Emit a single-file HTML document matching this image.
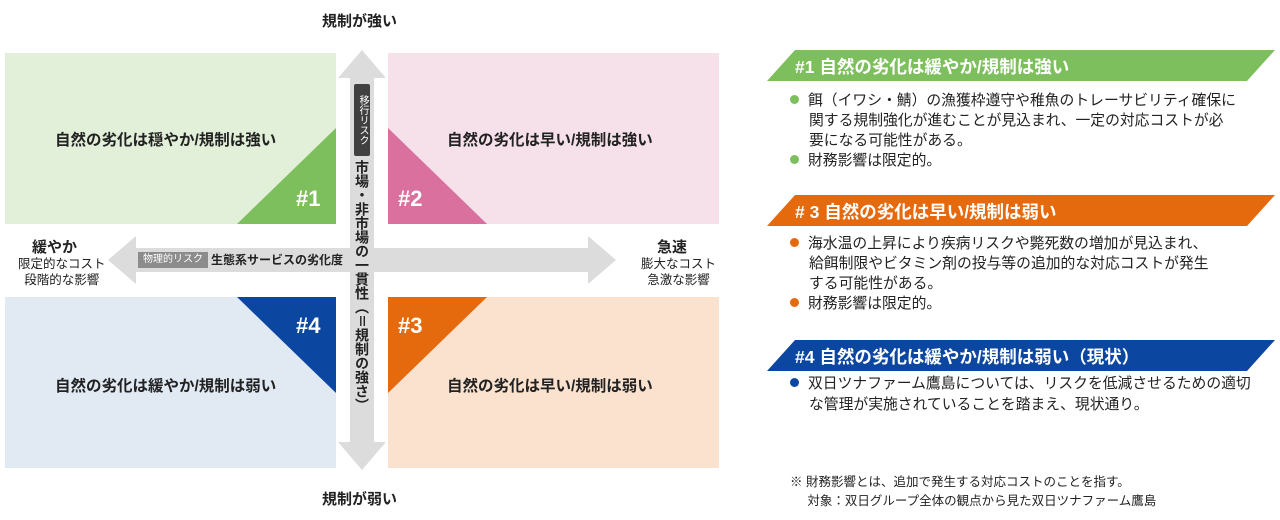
<!DOCTYPE html>
<html><head><meta charset="utf-8"><style>
body{margin:0;width:1280px;height:520px;background:#fff;font-family:"Liberation Sans","Noto Sans CJK JP",sans-serif;color:#222;position:relative;overflow:hidden}
.a{position:absolute;white-space:nowrap}
.q{position:absolute;width:331px;height:171px}
.ql{font-size:15.5px;font-weight:bold;position:absolute;white-space:nowrap}
.num{position:absolute;color:#fff;font-size:22px;font-weight:bold}
.ban{position:absolute;left:767px;width:508px;height:31px}
.bt{position:absolute;left:795px;color:#fff;font-size:17.5px;font-weight:bold;white-space:nowrap}
.li{position:absolute;left:790px;font-size:14.8px;line-height:20px;white-space:nowrap}
.dot{display:inline-block;width:9px;height:9px;border-radius:50%;margin-right:9px;vertical-align:1px}
.ind{padding-left:19px}
</style></head><body>
<div class="a" style="left:322px;top:10px;font-size:15px;font-weight:bold">規制が強い</div>
<div class="a" style="left:322px;top:488px;font-size:15px;font-weight:bold">規制が弱い</div>

<div class="q" style="left:5px;top:53px;background:#e2efd9"></div>
<div class="q" style="left:388px;top:53px;background:#f6e1ea"></div>
<div class="q" style="left:5px;top:297px;background:#e1e9f3"></div>
<div class="q" style="left:388px;top:297px;background:#fae2cf"></div>

<svg class="a" style="left:0;top:0" width="740" height="520">
<polygon points="237,224 336,224 336,128" fill="#7dbf5c"/>
<polygon points="388,128 388,224 487,224" fill="#d9709e"/>
<polygon points="237,297 336,297 336,393" fill="#0b46a0"/>
<polygon points="388,297 487,297 388,393" fill="#e5690d"/>
<polygon points="108,260 136,236 136,248 588,248 588,236 616,260 588,284 588,272 136,272 136,284" fill="#dcdcdc"/>
<polygon points="362,50 386,78 374,78 374,442 386,442 362,470 338,442 350,442 350,78 338,78" fill="#dcdcdc"/>
</svg>

<div class="num" style="left:296px;top:186px">#1</div>
<div class="num" style="left:398px;top:186px">#2</div>
<div class="num" style="left:296px;top:313px">#4</div>
<div class="num" style="left:398px;top:313px">#3</div>

<div class="ql" style="left:55px;top:128px">自然の劣化は穏やか/規制は強い</div>
<div class="ql" style="left:447px;top:128px">自然の劣化は早い/規制は強い</div>
<div class="ql" style="left:55px;top:374px">自然の劣化は緩やか/規制は弱い</div>
<div class="ql" style="left:447px;top:374px">自然の劣化は早い/規制は弱い</div>

<div class="a" style="left:32px;top:236px;font-size:15px;font-weight:bold">緩やか</div>
<div class="a" style="left:18px;top:256px;font-size:12.5px;line-height:16px;text-align:center">限定的なコスト<br>段階的な影響</div>
<div class="a" style="left:657px;top:236px;font-size:15px;font-weight:bold">急速</div>
<div class="a" style="left:641px;top:256px;font-size:12.5px;line-height:16px;text-align:center">膨大なコスト<br>急激な影響</div>

<div class="a" style="left:138px;top:252px;background:#8c8c8c;color:#fff;font-size:10px;padding:1px 5px;line-height:14px">物理的リスク</div>
<div class="a" style="left:211px;top:251px;font-size:12px;font-weight:bold">生態系サービスの劣化度</div>

<div class="a" style="left:354px;top:84px;width:16px;height:72px;background:#404040;color:#fff;font-size:10px;writing-mode:vertical-rl;text-align:center;line-height:16px;border-radius:2px">移行リスク</div>
<div class="a" style="left:352px;top:160px;width:20px;font-size:14px;font-weight:bold;writing-mode:vertical-rl;line-height:20px">市場・非市場の一貫性（＝規制の強さ）</div>

<svg class="ban" style="top:50px" width="508" height="31"><polygon points="28,0 508,0 480,31 0,31" fill="#7dbf5c"/></svg>
<div class="bt" style="top:54px">#1 自然の劣化は緩やか/規制は強い</div>
<div class="li" style="top:91px"><span class="dot" style="background:#7dbf5c"></span>餌（イワシ・鯖）の漁獲枠遵守や稚魚のトレーサビリティ確保に<br><span class="ind">関する規制強化が進むことが見込まれ、一定の対応コストが必</span><br><span class="ind">要になる可能性がある。</span><br><span class="dot" style="background:#7dbf5c"></span>財務影響は限定的。</div>

<svg class="ban" style="top:195px" width="508" height="31"><polygon points="28,0 508,0 480,31 0,31" fill="#e5690d"/></svg>
<div class="bt" style="top:199px"># 3 自然の劣化は早い/規制は弱い</div>
<div class="li" style="top:234px"><span class="dot" style="background:#e5690d"></span>海水温の上昇により疾病リスクや斃死数の増加が見込まれ、<br><span class="ind">給餌制限やビタミン剤の投与等の追加的な対応コストが発生</span><br><span class="ind">する可能性がある。</span><br><span class="dot" style="background:#e5690d"></span>財務影響は限定的。</div>

<svg class="ban" style="top:340px" width="508" height="31"><polygon points="28,0 508,0 480,31 0,31" fill="#0b46a0"/></svg>
<div class="bt" style="top:344px">#4 自然の劣化は緩やか/規制は弱い（現状）</div>
<div class="li" style="top:374px;line-height:21px"><span class="dot" style="background:#0b46a0"></span>双日ツナファーム鷹島については、リスクを低減させるための適切<br><span class="ind">な管理が実施されていることを踏まえ、現状通り。</span></div>

<div class="a" style="left:790px;top:473px;font-size:12.5px;line-height:19px">※ 財務影響とは、追加で発生する対応コストのことを指す。<br>&nbsp;&nbsp;&nbsp;&nbsp;&nbsp;対象：双日グループ全体の観点から見た双日ツナファーム鷹島</div>
</body></html>
